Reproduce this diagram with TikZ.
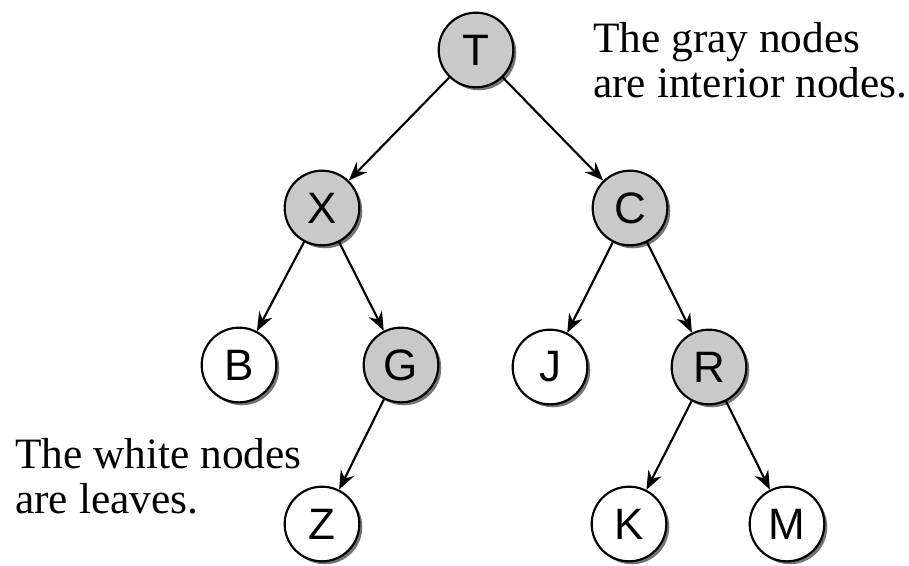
\documentclass[tikz,border=0pt]{standalone}
\usepackage{fontspec}
\setmainfont{Liberation Serif}
\newfontfamily\letterfont{Liberation Sans}
\usepackage{xcolor}
\usepackage{tikz}
\usetikzlibrary{arrows.meta,shadows}

\begin{document}
\begin{tikzpicture}[
  x=0.75pt, y=-0.75pt,
  vert/.style={circle, draw, line width=1.6pt, minimum size=56pt, inner sep=0pt,
    font=\letterfont\fontsize{33}{33}\selectfont, fill=white,
    drop shadow={shadow xshift=2.2pt, shadow yshift=-2.2pt, fill=black, opacity=0.55}},
  interior/.style={vert, fill=gray!42},
  leaf/.style={vert},
  note/.style={align=left, inner sep=0pt, font=\fontsize{32.5}{33.75}\selectfont},
  flow/.style={-{Stealth[length=14pt, width=11pt]}, line width=1.6pt}]

  \useasboundingbox (0,0) rectangle (909,565);

  \node[interior] (T) at (476,50) {T};
  \node[interior] (X) at (322,208) {X};
  \node[interior] (C) at (630,208) {C};
  \node[leaf] (B) at (239,365) {B};
  \node[interior] (G) at (401,365) {G};
  \node[leaf] (J) at (550,367) {J};
  \node[interior] (R) at (709,367) {R};
  \node[leaf] (Z) at (322,524) {Z};
  \node[leaf] (K) at (629,524) {K};
  \node[leaf] (M) at (787,524) {M};

  % base anchor sits on the last line
  \node[note, anchor=base west] (graynote) at (593,97) {The gray nodes\\are interior nodes.};
  \node[note, anchor=base west] (whitenote) at (15,513) {The white nodes\\are leaves.};

  \draw[flow] (T) -- (X);
  \draw[flow] (T) -- (C);
  \draw[flow] (X) -- (B);
  \draw[flow] (X) -- (G);
  \draw[flow] (C) -- (J);
  \draw[flow] (C) -- (R);
  \draw[flow] (G) -- (Z);
  \draw[flow] (R) -- (K);
  \draw[flow] (R) -- (M);
\end{tikzpicture}
\end{document}
